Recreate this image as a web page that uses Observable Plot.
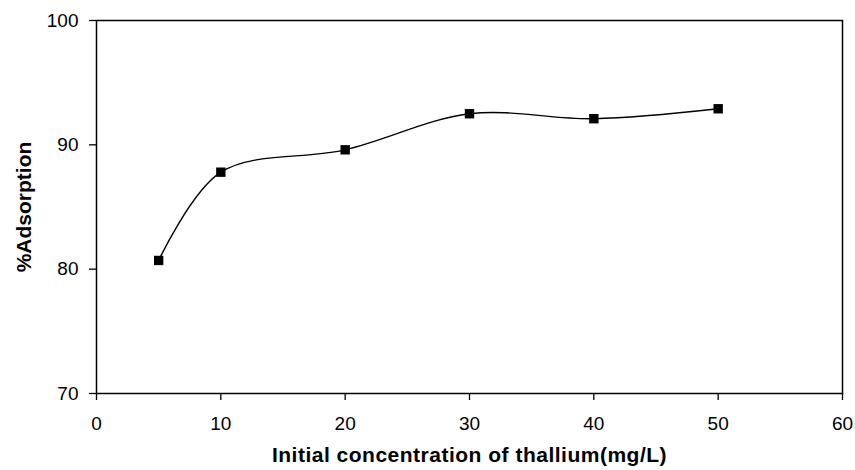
<!DOCTYPE html>
<html>
<head>
<meta charset="utf-8">
<script src="https://cdn.jsdelivr.net/npm/d3@7"></script>
<script src="https://cdn.jsdelivr.net/npm/@observablehq/plot@0.6"></script>
<style>
  html, body { margin: 0; padding: 0; background: #fff; }
  #chart svg { display: block; }
</style>
</head>
<body>
<div id="chart"></div>
<script>
// Initial thallium concentration (mg/L) and measured % adsorption
const concentration = [5, 10, 20, 30, 40, 50];
const adsorption = [80.7, 87.8, 89.6, 92.5, 92.1, 92.9];
const xTicks = [0, 10, 20, 30, 40, 50, 60];
const yTicks = [70, 80, 90, 100];
const xTitle = "Initial concentration of thallium(mg/L)";
const yTitle = "%Adsorption";

const data = concentration.map((c, i) => ({c, a: adsorption[i]}));

const chart = Plot.plot({
  width: 855,
  height: 470,
  marginLeft: 96,
  marginRight: 13,
  marginTop: 20,
  marginBottom: 77,
  style: {fontFamily: "'Liberation Sans', Arial, sans-serif", color: "#000", background: "#fff"},
  x: {domain: [0, 60]},
  y: {domain: [70, 100]},
  marks: [
    Plot.frame({stroke: "#000", strokeWidth: 1.5}),
    Plot.axisX({ticks: xTicks, tickSize: 7, tickPadding: 16, fontSize: 19, label: null, stroke: "#000", strokeWidth: 1.3}),
    Plot.axisY({ticks: yTicks, tickSize: 7, tickPadding: 11, fontSize: 19, label: null, stroke: "#000", strokeWidth: 1.3}),
    Plot.line(data, {x: "c", y: "a", curve: "catmull-rom", stroke: "#000", strokeWidth: 1.4}),
    Plot.dot(data, {x: "c", y: "a", symbol: "square", r: 5.3, fill: "#000", stroke: "none"}),
    Plot.text([xTitle], {
      frameAnchor: "bottom", dy: 68, fontSize: 21, fontWeight: "bold", fill: "#000",
      text: d => d
    }),
    Plot.text([yTitle], {
      frameAnchor: "left", dx: -72, rotate: -90, textAnchor: "middle", fontSize: 21, fontWeight: "bold", fill: "#000",
      text: d => d
    })
  ]
});

// Slightly wider tracking on the x-axis title
d3.select(chart).selectAll("text")
  .filter(function () { return this.textContent === xTitle; })
  .attr("letter-spacing", "0.5px");

document.getElementById("chart").append(chart);
</script>
</body>
</html>
